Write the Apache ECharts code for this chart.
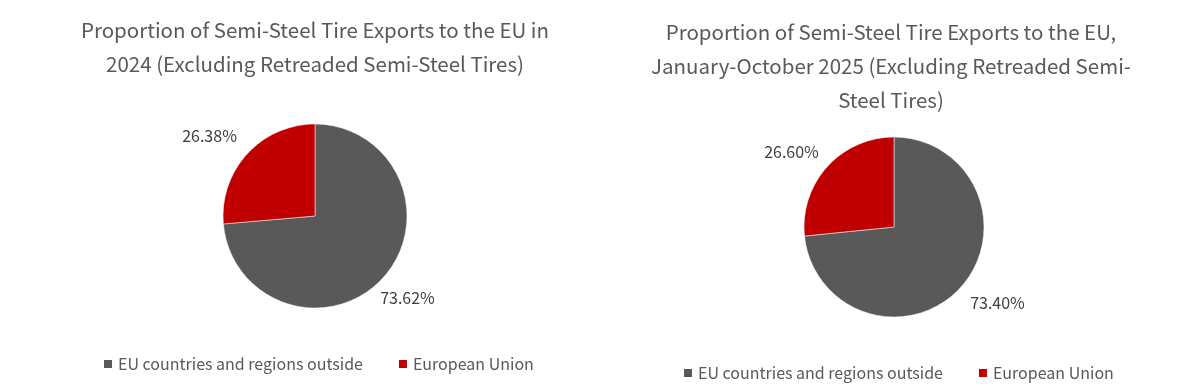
<!DOCTYPE html>
<html><head><meta charset="utf-8">
<script src="https://cdn.jsdelivr.net/npm/echarts@6/dist/echarts.min.js"></script>
<style>html,body{margin:0;padding:0;background:#fff}#c{width:1197px;height:389px}</style>
</head><body><div id="c"></div>
<script>
const categories = ['EU countries and regions outside', 'European Union'];
const values2024 = [73.62, 26.38];
const values2025 = [73.40, 26.60];
const title2024 = 'Proportion of Semi-Steel Tire Exports to the EU in\n2024 (Excluding Retreaded Semi-Steel Tires)';
const title2025 = 'Proportion of Semi-Steel Tire Exports to the EU,\nJanuary-October 2025 (Excluding Retreaded Semi-\nSteel Tires)';
const colors = ['#595959', '#C00000'];

const FONT = '"Noto Sans CJK SC", "Noto Sans", sans-serif';
const chart = echarts.init(document.getElementById('c'));
function mkData(vals){ return categories.map((n,i)=>({name:n, value:vals[i]})); }
function pie(center, radius, vals, shifts){
  return {
    type:'pie', center:center, radius:radius, startAngle:90, clockwise:true,
    data: mkData(vals), color: colors,
    itemStyle:{borderColor:'#fff', borderWidth:0.5},
    label:{show:true, position:'outside', formatter:(p)=>p.value.toFixed(2)+'%',
      color:'#404040', fontSize:16, fontFamily:FONT},
    labelLine:{show:false, length:14, length2:0},
    labelLayout:(p)=>({dx:shifts[p.dataIndex][0], dy:shifts[p.dataIndex][1]}),
    emphasis:{disabled:true}, animation:false
  };
}
const titleStyle = {fontSize:20.5, fontWeight:'normal', color:'#595959', fontFamily:FONT, lineHeight:34};
const legendText = {fontSize:16, color:'#595959', fontFamily:FONT};
chart.setOption({
  backgroundColor:'#fff',
  animation:false,
  title:[
    {text:title2024, left:310, top:8, textAlign:'center', textStyle:titleStyle},
    {text:title2025, left:886, top:10, textAlign:'center', textStyle:titleStyle}
  ],
  legend:[
    {data:categories, left:97, top:351, icon:'rect', itemWidth:10, itemHeight:10, itemGap:34, textStyle:legendText},
    {data:categories, left:677, top:360, icon:'rect', itemWidth:10, itemHeight:10, itemGap:34, textStyle:legendText}
  ],
  series:[
    pie([315,216], 92, values2024, [[-18,10],[5,-8]]),
    pie([894,227], 90, values2025, [[-6,6],[7,-5]])
  ]
});
</script></body></html>
